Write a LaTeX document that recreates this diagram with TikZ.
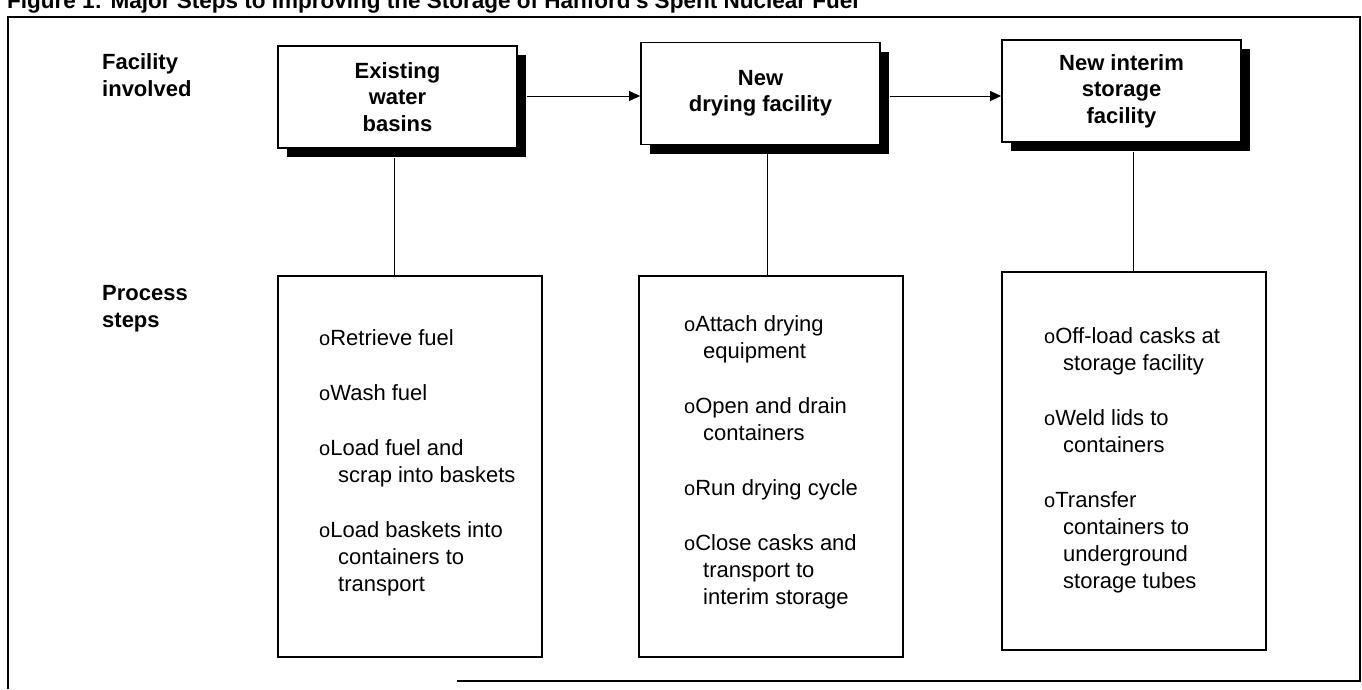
\documentclass[tikz,border=0pt]{standalone}
\usepackage{fontspec}
\setmainfont{Liberation Sans}
\usetikzlibrary{arrows.meta,shadows,calc}
\newcommand\bul{{\fontsize{20}{27}\selectfont o}}
\newcommand\ind{\hspace*{19pt}}
\begin{document}
\begin{tikzpicture}[x=1pt,y=-1pt,
  frame/.style={line width=2pt},
  facbox/.style={draw, line width=1.8pt, fill=white, minimum width=239pt, minimum height=102pt,
    inner sep=0pt, align=center, font=\bfseries\fontsize{22}{26.5}\selectfont,
    drop shadow={shadow xshift=9pt, shadow yshift=-9pt, fill=black, opacity=1}},
  stepbox/.style={draw, line width=1.8pt, minimum width=264pt, inner sep=0pt},
  lbl/.style={anchor=base west, inner sep=0pt, font=\bfseries\fontsize{22}{27}\selectfont},
  items/.style={anchor=base west, inner sep=0pt, font=\fontsize{22}{27}\selectfont},
  ttl/.style={anchor=base west, inner sep=0pt, font=\bfseries\fontsize{22.5}{27}\selectfont},
  conn/.style={line width=1pt},
  arr/.style={line width=1pt, -{Triangle[length=11pt,width=10pt]}}
]
\useasboundingbox (0,0) rectangle (1362,689);
\fill[white] (0,0) rectangle (1362,689);

% title (cut at the top in the reference)
\node[ttl] (title) at (7,8) {Figure 1: Major Steps to Improving the Storage of Hanford's Spent Nuclear Fuel};

% outer frame
\draw[frame] (8,689) -- (8,17) -- (1360,17) -- (1360,681) -- (457,681);

% row labels
\node[lbl] (lfac) at (102,69) {\begin{tabular}[t]{@{}l@{}}Facility\\involved\end{tabular}};
\node[lbl] (lproc) at (102,300) {\begin{tabular}[t]{@{}l@{}}Process\\steps\end{tabular}};

% facility boxes
\node[facbox] (b1) at (397.5,97) {Existing\\water\\basins};
\node[facbox] (b2) at (760.5,93.5) {New\\drying facility};
\node[facbox] (b3) at (1121.5,91) {New interim\\storage\\facility};

% process boxes
\node[stepbox, minimum height=381pt] (p1) at (410,466.5) {};
\node[stepbox, minimum height=381pt] (p2) at (771,466.5) {};
\node[stepbox, minimum height=378pt] (p3) at (1134,461) {};

% arrows between facilities
\coordinate (ay) at (0,96);
\draw[arr] ($(b1.east |- ay)+(9,0)$) -- (b2.west |- ay);
\draw[arr] ($(b2.east |- ay)+(9,0)$) -- (b3.west |- ay);

% vertical connectors
\coordinate (v1) at (394,0);
\coordinate (v2) at (767,0);
\coordinate (v3) at (1133,0);
\draw[conn] ($(b1.south -| v1)+(0,9)$) -- (p1.north -| v1);
\draw[conn] ($(b2.south -| v2)+(0,9)$) -- (p2.north -| v2);
\draw[conn] ($(b3.south -| v3)+(0,9)$) -- (p3.north -| v3);

% step texts
\node[items] (t1) at (319,345) {\begin{tabular}[t]{@{}l@{}}
\bul Retrieve fuel\\[28pt]
\bul Wash fuel\\[28pt]
\bul Load fuel and\\
\ind scrap into baskets\\[28pt]
\bul Load baskets into\\
\ind containers to\\
\ind transport
\end{tabular}};

\node[items] (t2) at (684,331) {\begin{tabular}[t]{@{}l@{}}
\bul Attach drying\\
\ind equipment\\[28pt]
\bul Open and drain\\
\ind containers\\[28pt]
\bul Run drying cycle\\[28pt]
\bul Close casks and\\
\ind transport to\\
\ind interim storage
\end{tabular}};

\node[items] (t3) at (1044,343) {\begin{tabular}[t]{@{}l@{}}
\bul Off-load casks at\\
\ind storage facility\\[28pt]
\bul Weld lids to\\
\ind containers\\[28pt]
\bul Transfer\\
\ind containers to\\
\ind underground\\
\ind storage tubes
\end{tabular}};
\end{tikzpicture}
\end{document}
